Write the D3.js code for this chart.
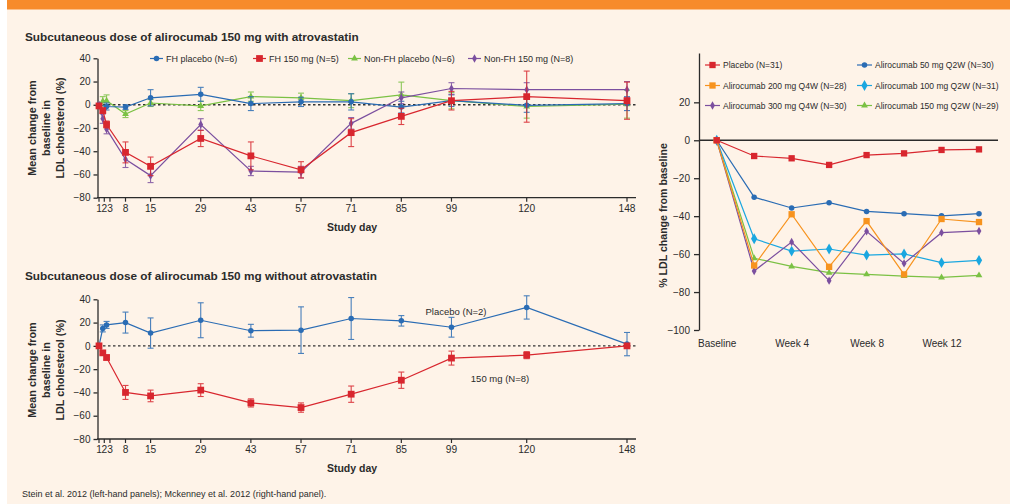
<!DOCTYPE html>
<html>
<head>
<meta charset="utf-8">
<script src="https://cdn.jsdelivr.net/npm/d3@7"></script>
<style>
  body { margin: 0; padding: 0; background: #fff; }
  svg text { font-family: "Liberation Sans", Arial, sans-serif; fill: #2b2b2b; }
</style>
</head>
<body>
<div id="chart"></div>
<script>
// ---- data ----
var studyDays = [1, 2, 3, 8, 15, 29, 43, 57, 71, 85, 99, 120, 148];
var leftYTicks = [40, 20, 0, -20, -40, -60, -80];

// panel 1: with atorvastatin
var fhPlacebo      = [0, null, -1.5, -2, 6, 9, 1, 2.5, 2.5, -2, 3.5, -0.5, 1];
var fhPlaceboErr   = [0, null, 3, 2, 7, 6, 6, 4, 7, 5, 5, 6, 6];
var fh150          = [-1, -5, -17, -41, -53, -29, -44, -56, -24, -10, 3.5, 7, 3.5];
var fh150Err       = [1, 2, 3, 9, 8, 7, 12, 7, 12, 7, 8, 22, 16];
var nonFhPlacebo   = [0, 3, 3.5, -8, 1.5, -1, 7, 6, 3.5, 8.5, 3.5, -1.5, 0.5];
var nonFhPlaceboErr= [0, 4, 5, 3, 3, 4, 4, 4, 6, 11, 7, 10, 12];
var nonFh150       = [0, -12, -21, -47, -61, -17, -57, -58, -16, 6, 14, 13, 13];
var nonFh150Err    = [0, 4, 4, 7, 6, 5, 4, 5, 5, 5, 5, 6, 7];

// panel 2: without atorvastatin
var noStatinPlacebo    = [0, 15, 18, 20, 11, 22, 13, 13.5, 23.5, 21.5, 16, 33, 1.5];
var noStatinPlaceboErr = [0, 3, 3, 9, 13, 15, 5.5, 20, 18, 4.5, 8.5, 10, 10];
var noStatin150        = [0, -6, -10, -40, -43, -38, -49, -53, -41.5, -29.5, -10.5, -8, 0];
var noStatin150Err     = [0, 1.5, 2, 6, 5, 5.5, 3.5, 4, 7, 7, 6, 3, 2];

// right panel
var weeks = [0, 2, 4, 6, 8, 10, 12, 14];
var weekTicks = [0, 4, 8, 12];
var rightYTicks = [20, 0, -20, -40, -60, -80, -100];
var placebo31 = [0, -8.3, -9.5, -13, -7.8, -6.9, -5.1, -4.8];
var aliro50   = [0, -30, -35.7, -32.9, -37.5, -38.7, -39.8, -38.7];
var aliro200  = [0, -66, -39, -66.7, -42.6, -70.7, -41.5, -43.1];
var aliro100  = [0, -51.9, -58.4, -57.3, -60.5, -59.9, -64.5, -63.3];
var aliro300  = [0, -68.9, -53.6, -74, -48, -64.9, -48.7, -47.8];
var aliro150  = [0, -62.2, -66.5, -69.8, -70.7, -71.6, -72.3, -71.2];

var RED = "#d8262e", BLUE = "#2a6cb4", GREEN = "#7bc144", PURPLE = "#7b4f9f",
    ORANGE = "#f7931e", LBLUE = "#1aa7e0", INK = "#2b2b2b";

var width = 1010, height = 504;
var svg = d3.select("#chart").append("svg")
  .attr("width", width).attr("height", height);

svg.append("rect").attr("width", width).attr("height", height).attr("fill", "#fff");
svg.append("rect").attr("x", 7).attr("y", 0).attr("width", width - 7).attr("height", height).attr("fill", "#fef3e8");
svg.append("rect").attr("x", 7).attr("y", 0).attr("width", width - 7).attr("height", 9.5).attr("fill", "#f78b2b");

function minusFmt(d) { return d < 0 ? "\u2212" + Math.abs(d) : d; }

function sym(type, size) { return d3.symbol().type(type).size(size)(); }

var markers = {
  circle: sym(d3.symbolCircle, 24),
  square: sym(d3.symbolSquare, 46),
  tri: sym(d3.symbolTriangle, 20),
  diamond: sym(d3.symbolDiamond, 20),
  bigDiamond: sym(d3.symbolDiamond, 34),
  smallSquare: sym(d3.symbolSquare, 40)
};

// ---- left panels ----
var xDay = d3.scaleLinear().domain([1, 8, 148]).range([99, 125.5, 627]);
var tickNudge = {1: 0, 2: 1.5, 3: 3.4};

function drawLeftPanel(cfg) {
  var y = d3.scaleLinear().domain([-80, 40]).range([cfg.bottom, cfg.top]);
  var g = svg.append("g");

  g.append("text").attr("x", 25).attr("y", cfg.titleY)
    .attr("font-size", "11.8px").attr("font-weight", "bold").text(cfg.title);

  // y axis
  var ya = g.append("g").attr("transform", "translate(97.5,0)")
    .call(d3.axisLeft(y).tickValues(leftYTicks).tickSize(4).tickPadding(3)
      .tickSizeOuter(0).tickFormat(minusFmt));
  ya.selectAll("text").attr("font-size", "10px").attr("fill", INK);
  ya.selectAll("line,path").attr("stroke", INK).attr("stroke-width", 1.3);

  // x axis
  var xa = g.append("g").attr("transform", "translate(0," + cfg.bottom + ")")
    .call(d3.axisBottom(xDay).tickValues(studyDays).tickSize(4).tickPadding(3));
  xa.select(".domain").remove();
  xa.selectAll(".tick").attr("transform", function(d) {
    return "translate(" + (xDay(d) + (tickNudge[d] || 0)) + ",0)";
  });
  xa.selectAll("text").attr("font-size", "10.2px").attr("fill", INK);
  xa.selectAll("line").attr("stroke", INK).attr("stroke-width", 1.2);
  g.append("line").attr("x1", 97).attr("x2", 636).attr("y1", cfg.bottom).attr("y2", cfg.bottom)
    .attr("stroke", INK).attr("stroke-width", 1.3);

  // zero line
  g.append("line").attr("x1", 98).attr("x2", 636).attr("y1", y(0)).attr("y2", y(0))
    .attr("stroke", "#333").attr("stroke-width", 1.4).attr("stroke-dasharray", "2.5,2.5");

  g.append("text").attr("x", 352).attr("y", cfg.bottom + 33)
    .attr("text-anchor", "middle").attr("font-size", "10.5px").attr("font-weight", "bold")
    .text("Study day");

  var lab = g.append("text").attr("font-size", "10.8px").attr("font-weight", "bold")
    .attr("text-anchor", "middle")
    .attr("transform", "translate(0," + cfg.labelY + ") rotate(-90)");
  ["Mean change from", "baseline in", "LDL cholesterol (%)"].forEach(function(t, i) {
    lab.append("tspan").attr("x", 0).attr("y", 35.5 + i * 14.3).text(t);
  });

  cfg.series.forEach(function(s) {
    var pts = studyDays.map(function(d, i) {
      return {day: d, v: s.values[i], e: s.err[i]};
    }).filter(function(p) { return p.v !== null; });

    var sg = g.append("g");
    var eb = sg.selectAll(".eb").data(pts.filter(function(p) { return p.e > 0; })).enter().append("g")
      .attr("stroke", s.color).attr("stroke-width", 1.1).attr("opacity", 0.85);
    eb.append("line")
      .attr("x1", function(p) { return xDay(p.day); }).attr("x2", function(p) { return xDay(p.day); })
      .attr("y1", function(p) { return y(p.v + p.e); }).attr("y2", function(p) { return y(p.v - p.e); });
    [1, -1].forEach(function(sgn) {
      eb.append("line")
        .attr("x1", function(p) { return xDay(p.day) - 3; }).attr("x2", function(p) { return xDay(p.day) + 3; })
        .attr("y1", function(p) { return y(p.v + sgn * p.e); }).attr("y2", function(p) { return y(p.v + sgn * p.e); });
    });

    sg.append("path").datum(pts)
      .attr("fill", "none").attr("stroke", s.color).attr("stroke-width", 1.2)
      .attr("d", d3.line().x(function(p) { return xDay(p.day); }).y(function(p) { return y(p.v); }));

    sg.selectAll(".mk").data(pts).enter().append("path")
      .attr("d", markers[s.marker]).attr("fill", s.color)
      .attr("transform", function(p) { return "translate(" + xDay(p.day) + "," + y(p.v) + ")"; });
  });
  return {g: g, y: y};
}

var p1 = drawLeftPanel({
  title: "Subcutaneous dose of alirocumab 150 mg with atrovastatin",
  titleY: 41, top: 58.3, bottom: 197.7, labelY: 128,
  series: [
    {values: nonFhPlacebo, err: nonFhPlaceboErr, color: GREEN, marker: "tri"},
    {values: fhPlacebo, err: fhPlaceboErr, color: BLUE, marker: "circle"},
    {values: nonFh150, err: nonFh150Err, color: PURPLE, marker: "diamond"},
    {values: fh150, err: fh150Err, color: RED, marker: "square"}
  ]
});

// top legend
var legendTop = [
  {label: "FH placebo (N=6)", color: BLUE, marker: "circle", x: 150},
  {label: "FH 150 mg (N=5)", color: RED, marker: "square", x: 253},
  {label: "Non-FH placebo (N=6)", color: GREEN, marker: "tri", x: 348},
  {label: "Non-FH 150 mg (N=8)", color: PURPLE, marker: "diamond", x: 468}
];
var lt = svg.append("g").selectAll("g").data(legendTop).enter().append("g")
  .attr("transform", function(d) { return "translate(" + d.x + ",58.5)"; });
lt.append("line").attr("x1", 0).attr("x2", 13).attr("stroke", function(d) { return d.color; }).attr("stroke-width", 1.2);
lt.append("path").attr("d", function(d) { return markers[d.marker]; })
  .attr("fill", function(d) { return d.color; }).attr("transform", "translate(6.5,0)");
lt.append("text").attr("x", 16).attr("y", 3.2).attr("font-size", "9px").text(function(d) { return d.label; });

var p2 = drawLeftPanel({
  title: "Subcutaneous dose of alirocumab 150 mg without atrovastatin",
  titleY: 280, top: 299.3, bottom: 439, labelY: 370,
  series: [
    {values: noStatinPlacebo, err: noStatinPlaceboErr, color: BLUE, marker: "circle"},
    {values: noStatin150, err: noStatin150Err, color: RED, marker: "square"}
  ]
});
p2.g.append("text").attr("x", 456).attr("y", 315).attr("text-anchor", "middle")
  .attr("font-size", "9.5px").text("Placebo (N=2)");
p2.g.append("text").attr("x", 500).attr("y", 381.5).attr("text-anchor", "middle")
  .attr("font-size", "9.5px").text("150 mg (N=8)");

// ---- right panel ----
var xWeek = d3.scaleLinear().domain([0, 14]).range([716.7, 979]);
var yR = d3.scaleLinear().domain([-100, 46]).range([330, 53]);
var rg = svg.append("g");

var ra = rg.append("g").attr("transform", "translate(699,0)")
  .call(d3.axisLeft(yR).tickValues(rightYTicks).tickSize(5).tickPadding(4)
    .tickSizeOuter(0).tickFormat(minusFmt));
ra.selectAll("text").attr("font-size", "10px").attr("fill", INK);
ra.selectAll("line,path").attr("stroke", INK).attr("stroke-width", 1.3);

rg.append("line").attr("x1", 699).attr("x2", 998).attr("y1", yR(0)).attr("y2", yR(0))
  .attr("stroke", INK).attr("stroke-width", 1.3);

var rx = rg.append("g").attr("transform", "translate(0,339.5)")
  .call(d3.axisBottom(xWeek).tickValues(weekTicks).tickSize(0).tickPadding(0)
    .tickFormat(function(d) { return d === 0 ? "Baseline" : "Week " + d; }));
rx.select(".domain").remove();
rx.selectAll("text").attr("font-size", "10px").attr("fill", INK);

rg.append("text").attr("font-size", "10.6px").attr("font-weight", "bold")
  .attr("text-anchor", "middle")
  .attr("transform", "translate(667,215.5) rotate(-90)")
  .text("% LDL change from baseline");

var rightSeries = [
  {label: "Alirocumab 150 mg Q2W (N=29)", values: aliro150, color: GREEN, marker: "tri"},
  {label: "Alirocumab 100 mg Q2W (N=31)", values: aliro100, color: LBLUE, marker: "bigDiamond"},
  {label: "Alirocumab 50 mg Q2W (N=30)", values: aliro50, color: BLUE, marker: "circle"},
  {label: "Alirocumab 300 mg Q4W (N=30)", values: aliro300, color: PURPLE, marker: "diamond"},
  {label: "Alirocumab 200 mg Q4W (N=28)", values: aliro200, color: ORANGE, marker: "smallSquare"},
  {label: "Placebo (N=31)", values: placebo31, color: RED, marker: "smallSquare"}
];
rightSeries.forEach(function(s) {
  var pts = weeks.map(function(w, i) { return {w: w, v: s.values[i]}; });
  rg.append("path").datum(pts).attr("fill", "none").attr("stroke", s.color).attr("stroke-width", 1.2)
    .attr("d", d3.line().x(function(p) { return xWeek(p.w); }).y(function(p) { return yR(p.v); }));
  rg.append("g").selectAll("path").data(pts).enter().append("path")
    .attr("d", markers[s.marker]).attr("fill", s.color)
    .attr("transform", function(p) { return "translate(" + xWeek(p.w) + "," + yR(p.v) + ")"; });
});

var legendRight = [
  {label: "Placebo (N=31)", color: RED, marker: "smallSquare", x: 705, y: 65},
  {label: "Alirocumab 200 mg Q4W (N=28)", color: ORANGE, marker: "smallSquare", x: 705, y: 85.5},
  {label: "Alirocumab 300 mg Q4W (N=30)", color: PURPLE, marker: "diamond", x: 705, y: 105.5},
  {label: "Alirocumab 50 mg Q2W (N=30)", color: BLUE, marker: "circle", x: 857, y: 65},
  {label: "Alirocumab 100 mg Q2W (N=31)", color: LBLUE, marker: "bigDiamond", x: 857, y: 85.5},
  {label: "Alirocumab 150 mg Q2W (N=29)", color: GREEN, marker: "tri", x: 857, y: 105.5}
];
var lr = rg.append("g").selectAll("g").data(legendRight).enter().append("g")
  .attr("transform", function(d) { return "translate(" + d.x + "," + d.y + ")"; });
lr.append("line").attr("x1", 0).attr("x2", 15).attr("stroke", function(d) { return d.color; }).attr("stroke-width", 1.2);
lr.append("path").attr("d", function(d) { return markers[d.marker]; })
  .attr("fill", function(d) { return d.color; }).attr("transform", "translate(7.5,0)");
lr.append("text").attr("x", 18).attr("y", 3).attr("font-size", "8.5px").text(function(d) { return d.label; });

// footer
svg.append("text").attr("x", 22).attr("y", 497).attr("font-size", "9px")
  .text("Stein et al. 2012 (left-hand panels); Mckenney et al. 2012 (right-hand panel).");
</script>
</body>
</html>
